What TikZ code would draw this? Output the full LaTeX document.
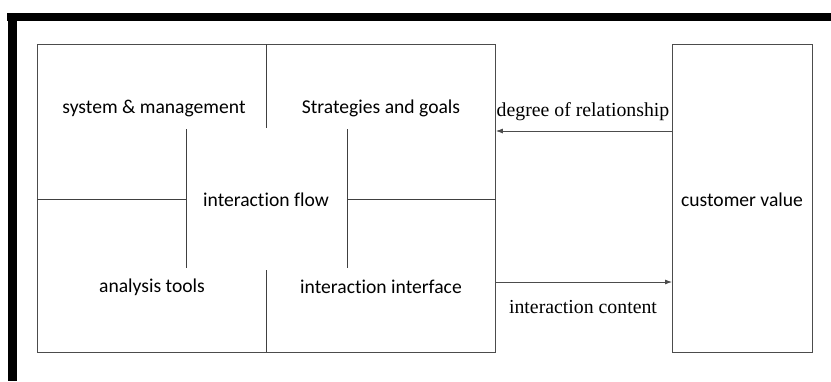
\documentclass[tikz,border=0pt]{standalone}
\usepackage{fontspec}
\setmainfont{Liberation Serif}
\newfontfamily\calib[Ligatures={NoCommon}]{Carlito}
\usetikzlibrary{arrows.meta}
\tikzset{
  boxline/.style={draw=black!70, line width=0.9bp},
  inner/.style={draw=black!75, line width=0.9bp},
  sanslabel/.style={font=\calib\fontsize{19.6bp}{22bp}\selectfont, inner sep=0pt},
  seriflabel/.style={font=\fontsize{19.8bp}{22bp}\selectfont, inner sep=0pt},
  conn/.style={draw=black!70, line width=0.8bp, -{Latex[length=7bp,width=5bp]}},
  frame/.style={fill=black}
}
\begin{document}
\begin{tikzpicture}[x=1bp,y=-1bp]
\useasboundingbox (0,0) rectangle (831,381);
\fill[white] (0,0) rectangle (831,381);
% thick frame
\fill[frame] (7,13) rectangle (831,21);
\fill[frame] (8,13) rectangle (17,381);
% boxes
\node[boxline, minimum width=458bp, minimum height=308bp, anchor=north west, inner sep=0pt] (big) at (37,44) {};
\node[boxline, minimum width=140bp, minimum height=308bp, anchor=north west, inner sep=0pt] (cv) at (672,44) {};
\node[sanslabel] (cvt) at (742,200) {customer value};
% inner lines
\coordinate (ml) at (186,199);
\coordinate (mr) at (347,199);
\draw[inner] (big.west |- ml) -- (ml);
\draw[inner] (mr) -- (big.east |- mr);
\draw[inner] (186,129) -- (186,268);
\draw[inner] (347,129) -- (347,268);
\draw[inner] (266,44) -- (266,128);
\draw[inner] (266,270) -- (266,352);
% quadrant labels
\node[sanslabel] (sm) at (154,108) {system \& management};
\node[sanslabel] (sg) at (381,108) {Strategies and goals};
\node[sanslabel] (at) at (152,287) {analysis tools};
\node[sanslabel] (ii) at (381,287) {interaction interface};
\node[sanslabel] (if) at (266,200) {interaction flow};
% connectors
\coordinate (rel) at (0,131);
\coordinate (cnt) at (0,282);
\draw[conn] (cv.west |- rel) -- (big.east |- rel);
\draw[conn] (big.east |- cnt) -- (cv.west |- cnt);
\node[seriflabel] (dr) at (583,112) {degree of relationship};
\node[seriflabel] (ic) at (583,307) {interaction content};
\end{tikzpicture}
\end{document}
